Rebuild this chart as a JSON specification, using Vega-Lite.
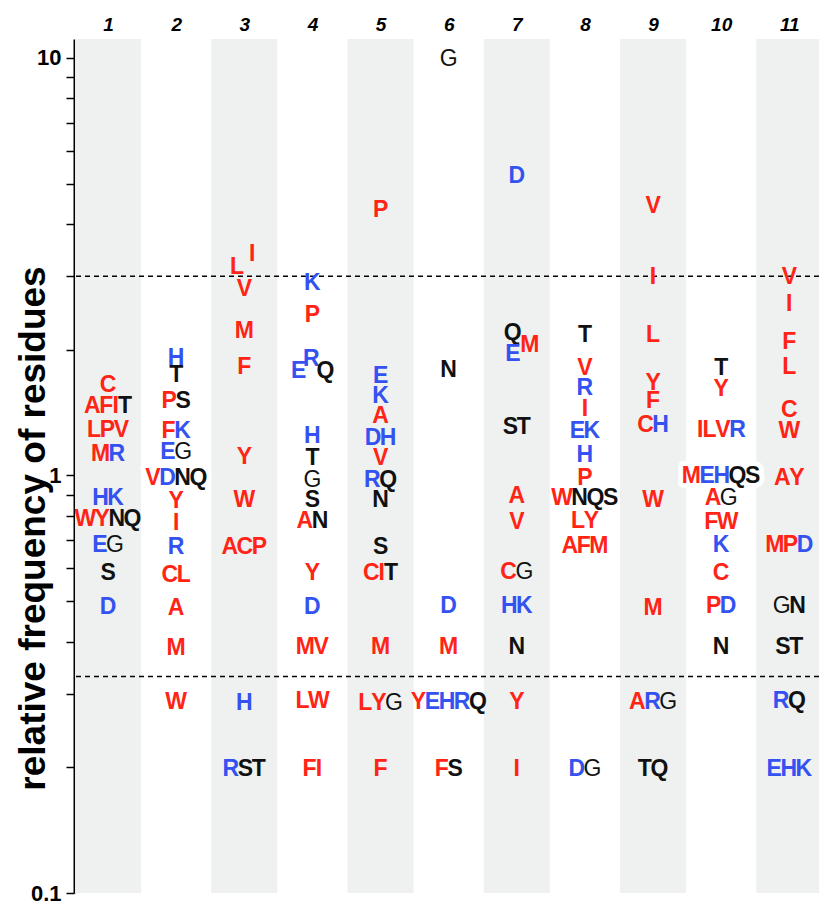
{
  "$schema": "https://vega.github.io/schema/vega-lite/v6.json",
  "width": 745,
  "height": 854,
  "autosize": {"type": "none"},
  "padding": {"left": 74, "top": 39, "right": 0, "bottom": 13},
  "background": "white",
  "config": {
    "view": {"stroke": null},
    "axisX": {
      "labelFont": "Liberation Sans", "labelFontWeight": "bold", "labelFontStyle": "italic",
      "labelFontSize": 19, "labelColor": "black", "labelPadding": 9, "labelBaseline": "alphabetic",
      "domain": false, "ticks": false, "tickSize": 0, "grid": false, "labelFlush": false, "labelOverlap": false
    },
    "axisY": {
      "labelFont": "Liberation Sans", "labelFontWeight": "bold", "labelFontSize": 22, "labelColor": "black",
      "labelPadding": 5, "labelFlush": false, "labelOverlap": false, "labelBound": false,
      "grid": false, "domainColor": "black", "domainWidth": 2, "tickColor": "black", "tickWidth": 1.5, "tickSize": 8,
      "titleFont": "Liberation Sans", "titleFontWeight": "bold", "titleFontSize": 37, "titleColor": "black"
    }
  },
  "datasets": {
    "bands": [{"p": 1}, {"p": 3}, {"p": 5}, {"p": 7}, {"p": 9}, {"p": 11}],
    "cuts": [{"r": 3}, {"r": 0.33}],
    "letters": [
      {"p": 1, "v": 1.654, "g": "C"},
      {"p": 1, "v": 1.474, "g": "AFIT"},
      {"p": 1, "v": 1.293, "g": "LPV"},
      {"p": 1, "v": 1.134, "g": "MR"},
      {"p": 1, "v": 0.89, "g": "HK"},
      {"p": 1, "v": 0.791, "g": "WYNQ"},
      {"p": 1, "v": 0.684, "g": "EG"},
      {"p": 1, "v": 0.586, "g": "S"},
      {"p": 1, "v": 0.487, "g": "D"},
      {"p": 2, "v": 1.918, "g": "H"},
      {"p": 2, "v": 1.747, "g": "T"},
      {"p": 2, "v": 1.515, "g": "PS"},
      {"p": 2, "v": 1.286, "g": "FK"},
      {"p": 2, "v": 1.147, "g": "EG"},
      {"p": 2, "v": 0.99, "g": "VDNQ"},
      {"p": 2, "v": 0.875, "g": "Y"},
      {"p": 2, "v": 0.774, "g": "I"},
      {"p": 2, "v": 0.677, "g": "R"},
      {"p": 2, "v": 0.582, "g": "CL"},
      {"p": 2, "v": 0.484, "g": "A"},
      {"p": 2, "v": 0.388, "g": "M"},
      {"p": 2, "v": 0.288, "g": "W"},
      {"p": 3, "v": 3.405, "g": "I", "s": 0.38},
      {"p": 3, "v": 3.17, "g": "L", "s": -0.35},
      {"p": 3, "v": 2.81, "g": "V"},
      {"p": 3, "v": 2.235, "g": "M"},
      {"p": 3, "v": 1.825, "g": "F"},
      {"p": 3, "v": 1.116, "g": "Y"},
      {"p": 3, "v": 0.88, "g": "W"},
      {"p": 3, "v": 0.677, "g": "ACP"},
      {"p": 3, "v": 0.287, "g": "H"},
      {"p": 3, "v": 0.199, "g": "RST"},
      {"p": 4, "v": 2.905, "g": "K"},
      {"p": 4, "v": 2.43, "g": "P"},
      {"p": 4, "v": 1.907, "g": "R", "s": -0.05},
      {"p": 4, "v": 1.785, "g": "E", "s": -0.65},
      {"p": 4, "v": 1.785, "g": "Q", "s": 0.62},
      {"p": 4, "v": 1.251, "g": "H"},
      {"p": 4, "v": 1.109, "g": "T"},
      {"p": 4, "v": 0.983, "g": "G"},
      {"p": 4, "v": 0.88, "g": "S"},
      {"p": 4, "v": 0.782, "g": "AN"},
      {"p": 4, "v": 0.586, "g": "Y"},
      {"p": 4, "v": 0.487, "g": "D"},
      {"p": 4, "v": 0.39, "g": "MV"},
      {"p": 4, "v": 0.29, "g": "LW"},
      {"p": 4, "v": 0.199, "g": "FI"},
      {"p": 5, "v": 4.355, "g": "P"},
      {"p": 5, "v": 1.738, "g": "E"},
      {"p": 5, "v": 1.557, "g": "K"},
      {"p": 5, "v": 1.396, "g": "A"},
      {"p": 5, "v": 1.238, "g": "DH"},
      {"p": 5, "v": 1.109, "g": "V"},
      {"p": 5, "v": 0.983, "g": "RQ"},
      {"p": 5, "v": 0.88, "g": "N"},
      {"p": 5, "v": 0.677, "g": "S"},
      {"p": 5, "v": 0.586, "g": "CIT"},
      {"p": 5, "v": 0.39, "g": "M"},
      {"p": 5, "v": 0.287, "g": "LYG"},
      {"p": 5, "v": 0.199, "g": "F"},
      {"p": 6, "v": 10.0, "g": "G"},
      {"p": 6, "v": 1.795, "g": "N"},
      {"p": 6, "v": 0.49, "g": "D"},
      {"p": 6, "v": 0.39, "g": "M"},
      {"p": 6, "v": 0.288, "g": "YEHRQ"},
      {"p": 6, "v": 0.199, "g": "FS"},
      {"p": 7, "v": 5.245, "g": "D"},
      {"p": 7, "v": 2.21, "g": "Q", "s": -0.2},
      {"p": 7, "v": 2.07, "g": "M", "s": 0.62},
      {"p": 7, "v": 1.96, "g": "E", "s": -0.18},
      {"p": 7, "v": 1.315, "g": "ST"},
      {"p": 7, "v": 0.899, "g": "A"},
      {"p": 7, "v": 0.778, "g": "V"},
      {"p": 7, "v": 0.589, "g": "CG"},
      {"p": 7, "v": 0.49, "g": "HK"},
      {"p": 7, "v": 0.39, "g": "N"},
      {"p": 7, "v": 0.288, "g": "Y"},
      {"p": 7, "v": 0.199, "g": "I"},
      {"p": 8, "v": 2.186, "g": "T"},
      {"p": 8, "v": 1.815, "g": "V"},
      {"p": 8, "v": 1.627, "g": "R"},
      {"p": 8, "v": 1.45, "g": "I"},
      {"p": 8, "v": 1.286, "g": "EK"},
      {"p": 8, "v": 1.128, "g": "H"},
      {"p": 8, "v": 0.994, "g": "P"},
      {"p": 8, "v": 0.89, "g": "WNQS"},
      {"p": 8, "v": 0.782, "g": "LY"},
      {"p": 8, "v": 0.681, "g": "AFM"},
      {"p": 8, "v": 0.199, "g": "DG"},
      {"p": 9, "v": 4.45, "g": "V"},
      {"p": 9, "v": 3.0, "g": "I"},
      {"p": 9, "v": 2.186, "g": "L"},
      {"p": 9, "v": 1.673, "g": "Y"},
      {"p": 9, "v": 1.515, "g": "F"},
      {"p": 9, "v": 1.329, "g": "CH"},
      {"p": 9, "v": 0.88, "g": "W"},
      {"p": 9, "v": 0.484, "g": "M"},
      {"p": 9, "v": 0.288, "g": "ARG"},
      {"p": 9, "v": 0.199, "g": "TQ"},
      {"p": 10, "v": 1.815, "g": "T"},
      {"p": 10, "v": 1.618, "g": "Y"},
      {"p": 10, "v": 1.293, "g": "ILVR"},
      {"p": 10, "v": 1.0, "g": "MEHQS"},
      {"p": 10, "v": 0.89, "g": "AG"},
      {"p": 10, "v": 0.778, "g": "FW"},
      {"p": 10, "v": 0.684, "g": "K"},
      {"p": 10, "v": 0.586, "g": "C"},
      {"p": 10, "v": 0.49, "g": "PD"},
      {"p": 10, "v": 0.39, "g": "N"},
      {"p": 11, "v": 3.0, "g": "V"},
      {"p": 11, "v": 2.59, "g": "I"},
      {"p": 11, "v": 2.104, "g": "F"},
      {"p": 11, "v": 1.825, "g": "L"},
      {"p": 11, "v": 1.442, "g": "C"},
      {"p": 11, "v": 1.286, "g": "W"},
      {"p": 11, "v": 0.994, "g": "AY"},
      {"p": 11, "v": 0.684, "g": "MPD"},
      {"p": 11, "v": 0.49, "g": "GN"},
      {"p": 11, "v": 0.39, "g": "ST"},
      {"p": 11, "v": 0.29, "g": "RQ"},
      {"p": 11, "v": 0.199, "g": "EHK"}
    ]
  },
  "layer": [
    {
      "data": {"name": "bands"},
      "transform": [
        {"calculate": "datum.p - 0.485", "as": "x0"},
        {"calculate": "datum.p + 0.485", "as": "x1"}
      ],
      "mark": {"type": "rect", "color": "#eef1f0", "clip": true},
      "encoding": {
        "x": {
          "field": "x0", "type": "quantitative",
          "scale": {"domain": [0.5, 11.436], "nice": false, "zero": false},
          "axis": {"orient": "top", "values": [1, 2, 3, 4, 5, 6, 7, 8, 9, 10, 11], "format": "d", "title": null}
        },
        "x2": {"field": "x1"}
      }
    },
    {
      "data": {"name": "cuts"},
      "mark": {"type": "rule", "color": "black", "strokeWidth": 1.5, "strokeDash": [5, 4]},
      "encoding": {
        "y": {
          "field": "r", "type": "quantitative",
          "scale": {"type": "log", "domain": [0.1, 11.1], "nice": false, "zero": false},
          "axis": {
            "orient": "left",
            "values": [0.1, 0.2, 0.3, 0.4, 0.5, 0.6, 0.7, 0.8, 0.9, 1, 2, 3, 4, 5, 6, 7, 8, 9, 10],
            "labelExpr": "datum.value == 10 ? '10' : (datum.value == 1 ? '1' : (datum.value == 0.1 ? '0.1' : ''))",
            "title": "relative frequency of residues",
            "titleX": -30, "titleY": 489, "titleAngle": -90, "titleAlign": "center", "titleBaseline": "alphabetic"
          }
        }
      }
    },
    {
      "mark": {"type": "rule", "color": "#555555", "strokeWidth": 1.5},
      "encoding": {
        "y": {
          "datum": 1, "type": "quantitative",
          "scale": {"type": "log", "domain": [0.1, 11.1], "nice": false, "zero": false}
        }
      }
    },
    {
      "data": {"name": "letters"},
      "transform": [
        {"calculate": "split(datum.g, '')", "as": "ch"},
        {"flatten": ["ch"], "as": ["aa"]},
        {"calculate": "[0.722,0.722,0.722,0.667,0.611,0.778,0.722,0.278,0.722,0.611,0.833,0.722,0.667,0.778,0.722,0.667,0.611,0.667,0.944,0.667][indexof('ACDEFGHIKLMNPQRSTVWY', datum.aa)]", "as": "w"},
        {"window": [{"op": "sum", "field": "w", "as": "cw"}], "groupby": ["p", "v", "g"], "frame": [null, 0]},
        {"joinaggregate": [{"op": "sum", "field": "w", "as": "tw"}], "groupby": ["p", "v", "g"]},
        {"calculate": "datum.cw - datum.w / 2 - datum.tw / 2 + (datum.s || 0)", "as": "off"},
        {"calculate": "datum.p + datum.off * 0.308", "as": "xp"}
      ],
      "layer": [
        {
          "transform": [{"filter": "datum.v > 0.95 && datum.v < 1.05"}],
          "mark": {"type": "text", "font": "Liberation Sans", "fontWeight": "bold", "fontSize": 23, "baseline": "middle", "align": "center", "dy": 1, "strokeWidth": 10, "strokeJoin": "round"},
          "encoding": {
            "x": {"field": "xp", "type": "quantitative", "scale": {"domain": [0.5, 11.436], "nice": false, "zero": false}},
            "y": {"field": "v", "type": "quantitative", "scale": {"type": "log", "domain": [0.1, 11.1], "nice": false, "zero": false}},
            "text": {"field": "aa"},
            "fill": {"condition": {"test": "datum.p % 2 == 1", "value": "#eef1f0"}, "value": "#ffffff"},
            "stroke": {"condition": {"test": "datum.p % 2 == 1", "value": "#eef1f0"}, "value": "#ffffff"}
          }
        },
        {
          "transform": [{"filter": "datum.aa != 'G'"}],
          "mark": {"type": "text", "font": "Liberation Sans", "fontWeight": "bold", "fontSize": 23, "baseline": "middle", "align": "center", "dy": 1},
          "encoding": {
            "x": {"field": "xp", "type": "quantitative", "scale": {"domain": [0.5, 11.436], "nice": false, "zero": false}},
            "y": {"field": "v", "type": "quantitative", "scale": {"type": "log", "domain": [0.1, 11.1], "nice": false, "zero": false}},
            "text": {"field": "aa"},
            "color": {
              "field": "aa", "type": "nominal", "legend": null,
              "scale": {
                "domain": ["A", "C", "F", "I", "L", "M", "P", "V", "W", "Y", "D", "E", "H", "K", "R", "G", "N", "Q", "S", "T"],
                "range": ["#ff2415", "#ff2415", "#ff2415", "#ff2415", "#ff2415", "#ff2415", "#ff2415", "#ff2415", "#ff2415", "#ff2415", "#3352f0", "#3352f0", "#3352f0", "#3352f0", "#3352f0", "#111111", "#111111", "#111111", "#111111", "#111111"]
              }
            }
          }
        },
        {
          "transform": [{"filter": "datum.aa == 'G'"}],
          "mark": {"type": "text", "font": "Liberation Sans", "fontWeight": "normal", "fontSize": 23, "baseline": "middle", "align": "center", "dy": 1, "color": "#111111"},
          "encoding": {
            "x": {"field": "xp", "type": "quantitative", "scale": {"domain": [0.5, 11.436], "nice": false, "zero": false}},
            "y": {"field": "v", "type": "quantitative", "scale": {"type": "log", "domain": [0.1, 11.1], "nice": false, "zero": false}},
            "text": {"field": "aa"}
          }
        }
      ]
    }
  ]
}
